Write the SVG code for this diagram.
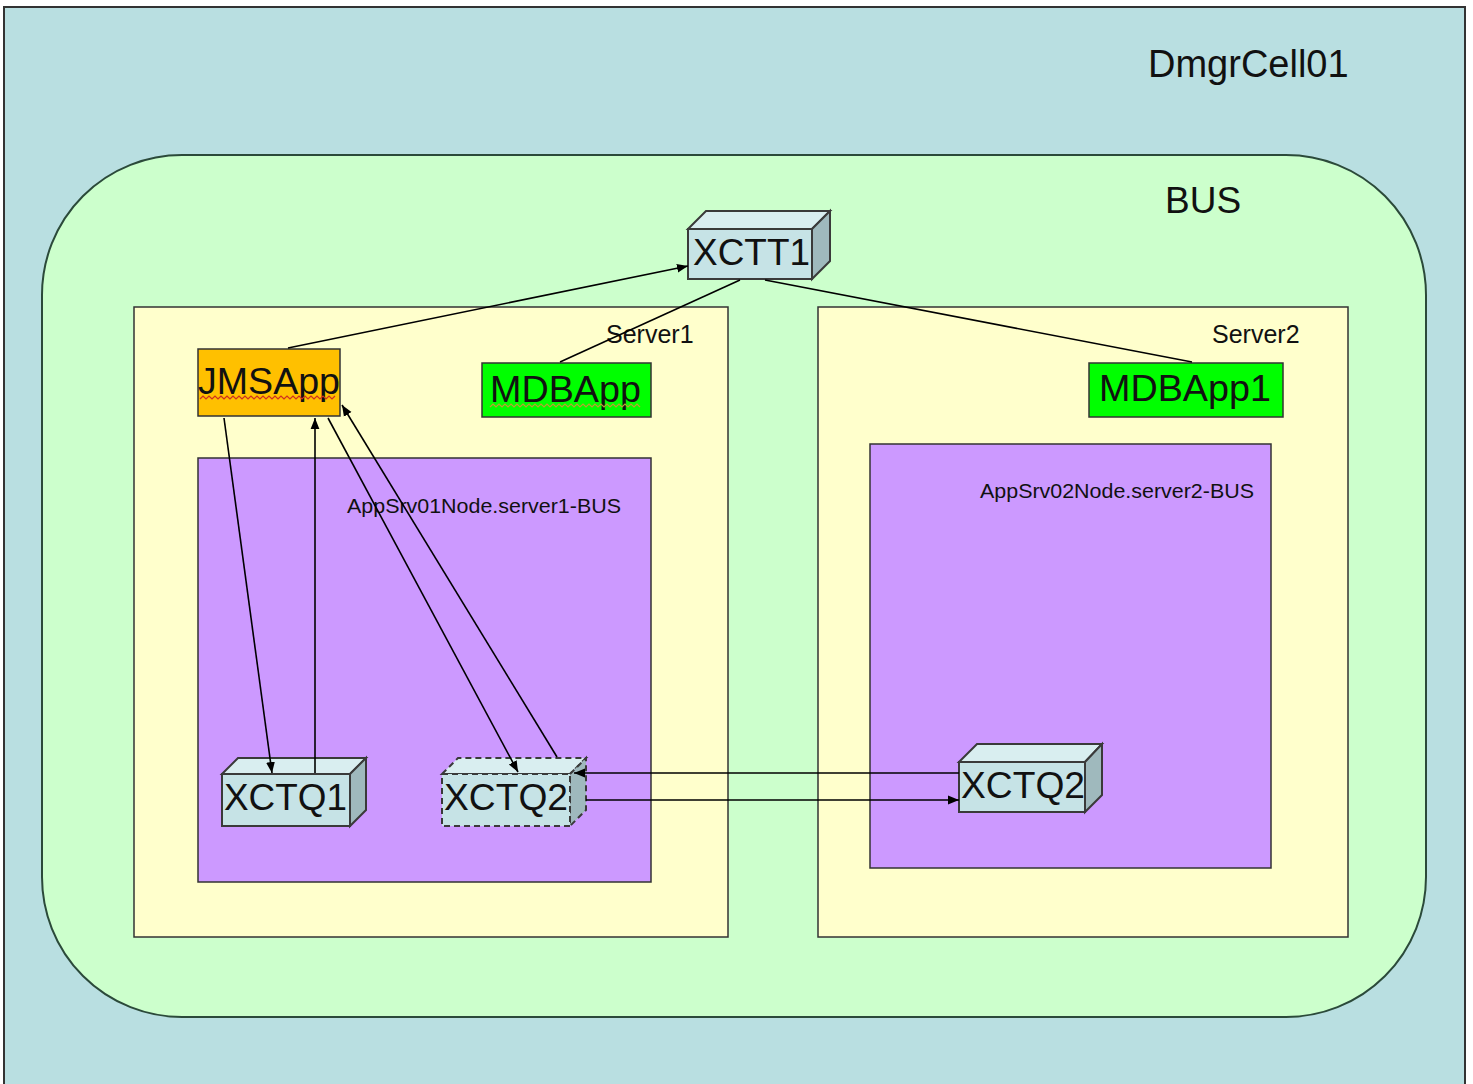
<svg xmlns="http://www.w3.org/2000/svg" width="1473" height="1084" viewBox="0 0 1473 1084">
<defs>
<style>
text{font-family:"Liberation Sans",Arial,sans-serif;fill:#111}
.big{font-size:37px}
.lbl{font-size:25px}
.sm{font-size:21px}
.front{fill:#C6E3E6;stroke:#3a3a3a;stroke-width:2}
.top{fill:#D9EEF0;stroke:#3a3a3a;stroke-width:2}
.side{fill:#9FB9BD;stroke:#3a3a3a;stroke-width:2}
.dash{stroke-dasharray:6 4}
.conn{fill:none;stroke:#000;stroke-width:1.6}
.wavy{fill:none;stroke:#d03020;stroke-width:1.2}
</style>
<marker id="arr" viewBox="0 0 10 10" refX="10" refY="5" markerWidth="11" markerHeight="11" orient="auto" markerUnits="userSpaceOnUse">
<path d="M0,1 L10,5 L0,9 z" fill="#000"/>
</marker>
</defs>
<g id="cell">
<rect x="4" y="7" width="1461" height="1090" fill="#B9DFE1" stroke="#333" stroke-width="2"/>
<text class="big" x="1148" y="77" style="font-size:38px">DmgrCell01</text>
</g>
<g id="bus">
<rect x="42" y="155" width="1384" height="862" rx="140" ry="140" fill="#CCFFCC" stroke="#2b4a3a" stroke-width="2"/>
<text class="big" x="1165" y="213">BUS</text>
</g>
<g id="server1">
<rect x="134" y="307" width="594" height="630" fill="#FFFFCC" stroke="#333" stroke-width="1.5"/>
<text class="lbl" x="606" y="343">Server1</text>
</g>
<g id="server2">
<rect x="818" y="307" width="530" height="630" fill="#FFFFCC" stroke="#333" stroke-width="1.5"/>
<text class="lbl" x="1212" y="343">Server2</text>
</g>
<g id="bus1">
<rect x="198" y="458" width="453" height="424" fill="#CC99FF" stroke="#333" stroke-width="1.5"/>
<text class="sm" x="347" y="513" textLength="274" lengthAdjust="spacingAndGlyphs">AppSrv01Node.server1-BUS</text>
</g>
<g id="bus2">
<rect x="870" y="444" width="401" height="424" fill="#CC99FF" stroke="#333" stroke-width="1.5"/>
<text class="sm" x="980" y="498" textLength="274" lengthAdjust="spacingAndGlyphs">AppSrv02Node.server2-BUS</text>
</g>
<g id="xctt1">
<path class="top" d="M688,229 L706,211 L830,211 L812,229 Z"/>
<path class="side" d="M812,229 L830,211 L830,261 L812,279 Z"/>
<rect class="front" x="688" y="229" width="124" height="50"/>
<text class="big" x="693" y="265" textLength="117" lengthAdjust="spacingAndGlyphs">XCTT1</text>
</g>
<g id="jmsapp">
<rect x="198" y="349" width="142" height="67" fill="#FFC000" stroke="#333" stroke-width="1.5"/>
<text class="big" x="198" y="394" textLength="142" lengthAdjust="spacingAndGlyphs">JMSApp</text>
<path class="wavy" d="M200,399 l3,-3 l3,3 l3,-3 l3,3 l3,-3 l3,3 l3,-3 l3,3 l3,-3 l3,3 l3,-3 l3,3 l3,-3 l3,3 l3,-3 l3,3 l3,-3 l3,3 l3,-3 l3,3 l3,-3 l3,3 l3,-3 l3,3 l3,-3 l3,3 l3,-3 l3,3 l3,-3 l3,3 l3,-3 l3,3 l3,-3 l3,3 l3,-3 l3,3 l3,-3 l3,3 l3,-3 l3,3 l3,-3 l3,3 l3,-3 l3,3 l3,-3"/>
</g>
<g id="mdbapp">
<rect x="482" y="363" width="169" height="54" fill="#00FF00" stroke="#333" stroke-width="1.5"/>
<text class="big" x="490" y="402" textLength="151" lengthAdjust="spacingAndGlyphs">MDBApp</text>
<path class="wavy" d="M490,407 l3,-3 l3,3 l3,-3 l3,3 l3,-3 l3,3 l3,-3 l3,3 l3,-3 l3,3 l3,-3 l3,3 l3,-3 l3,3 l3,-3 l3,3 l3,-3 l3,3 l3,-3 l3,3 l3,-3 l3,3 l3,-3 l3,3 l3,-3 l3,3 l3,-3 l3,3 l3,-3 l3,3 l3,-3 l3,3 l3,-3 l3,3 l3,-3 l3,3 l3,-3 l3,3 l3,-3 l3,3 l3,-3 l3,3 l3,-3 l3,3 l3,-3 l3,3 l3,-3 l3,3 l3,-3 l3,3" style="stroke:#b8a030"/>
</g>
<g id="mdbapp1">
<rect x="1089" y="363" width="194" height="54" fill="#00FF00" stroke="#333" stroke-width="1.5"/>
<text class="big" x="1099" y="401" textLength="172" lengthAdjust="spacingAndGlyphs">MDBApp1</text>
</g>
<g id="xctq1">
<path class="top" d="M222,774 L238,758 L366,758 L350,774 Z"/>
<path class="side" d="M350,774 L366,758 L366,810 L350,826 Z"/>
<rect class="front" x="222" y="774" width="128" height="52"/>
<text class="big" x="224" y="810" textLength="123" lengthAdjust="spacingAndGlyphs">XCTQ1</text>
</g>
<g id="xctq2a">
<path class="top dash" d="M442,774 L458,758 L586,758 L570,774 Z"/>
<path class="side dash" d="M570,774 L586,758 L586,810 L570,826 Z"/>
<rect class="front dash" x="442" y="774" width="128" height="52"/>
<text class="big" x="444" y="810" textLength="124" lengthAdjust="spacingAndGlyphs">XCTQ2</text>
</g>
<g id="xctq2b">
<path class="top" d="M959,762 L977,744 L1102,744 L1085,762 Z"/>
<path class="side" d="M1085,762 L1102,744 L1102,795 L1085,812 Z"/>
<rect class="front" x="959" y="762" width="126" height="50"/>
<text class="big" x="961" y="798" textLength="124" lengthAdjust="spacingAndGlyphs">XCTQ2</text>
</g>
<g id="connectors">
<line class="conn" x1="288" y1="348" x2="688" y2="266" marker-end="url(#arr)"/>
<line class="conn" x1="560" y1="362" x2="740" y2="280"/>
<line class="conn" x1="1192" y1="362" x2="765" y2="280"/>
<line class="conn" x1="224" y1="418" x2="272" y2="773" marker-end="url(#arr)"/>
<line class="conn" x1="315" y1="773" x2="315" y2="418" marker-end="url(#arr)"/>
<line class="conn" x1="328" y1="418" x2="518" y2="772" marker-end="url(#arr)"/>
<line class="conn" x1="557" y1="757" x2="342" y2="405" marker-end="url(#arr)"/>
<line class="conn" x1="959" y1="773" x2="574" y2="773" marker-end="url(#arr)"/>
<line class="conn" x1="586" y1="800" x2="959" y2="800" marker-end="url(#arr)"/>
</g>
</svg>
